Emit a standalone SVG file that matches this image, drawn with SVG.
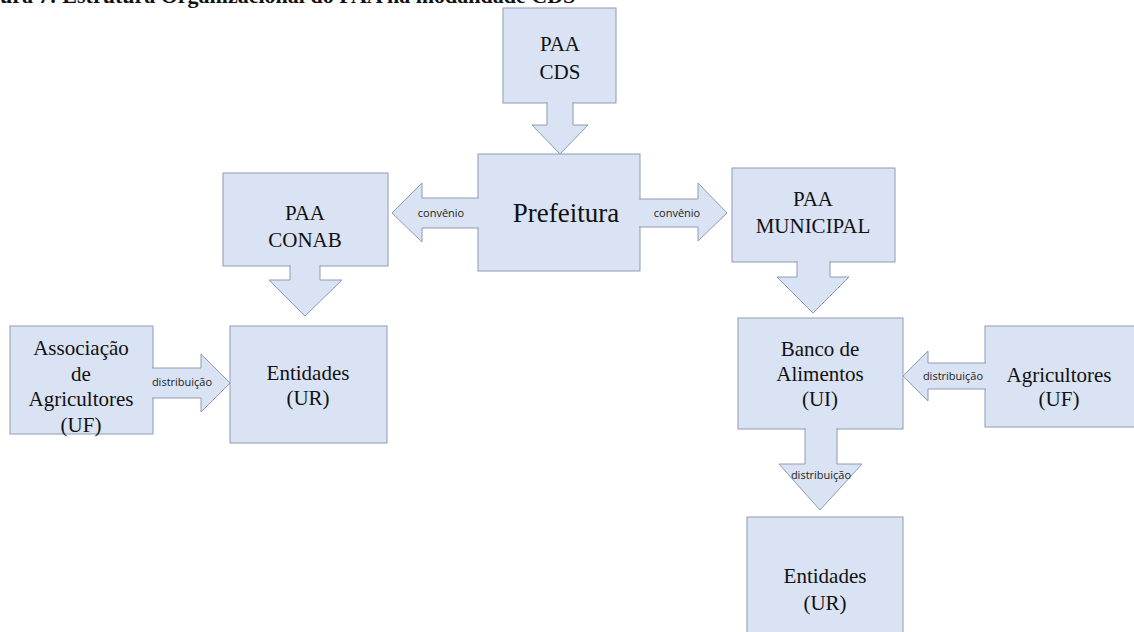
<svg xmlns="http://www.w3.org/2000/svg" width="1134" height="632" viewBox="0 0 1134 632">
<style>
.box{fill:#dae3f3;stroke:#8e9bb2;stroke-width:1}
.arr{fill:#dae3f3;stroke:#8e9bb2;stroke-width:1;stroke-linejoin:miter}
.t{font-family:"Liberation Serif","Times New Roman",serif;font-size:21px;fill:#111;text-anchor:middle}
.big{font-size:27px}
.lbl{font-family:"Open Sans","Liberation Sans",sans-serif;font-size:11px;fill:#222;text-anchor:middle}
.title{font-family:"Liberation Serif","Times New Roman",serif;font-size:22px;font-weight:bold;fill:#111}
</style>
<rect width="1134" height="632" fill="#fff"/>
<text class="title" x="0" y="3">ura 7: Estrutura Organizacional do PAA na modalidade CDS</text>

<g id="n-cds"><rect class="box" x="503" y="8" width="113" height="95"/>
<text class="t" x="560" y="51" font-size="23">PAA</text><text class="t" x="560" y="79" font-size="23">CDS</text></g>

<g id="n-prefeitura"><rect class="box" x="478" y="154" width="162" height="117"/>
<text class="t big" x="566" y="222">Prefeitura</text></g>

<g id="n-conab"><rect class="box" x="223" y="173" width="165" height="93"/>
<text class="t" x="305" y="220">PAA</text><text class="t" x="305" y="247">CONAB</text></g>

<g id="n-municipal"><rect class="box" x="732" y="168" width="163" height="94"/>
<text class="t" x="813" y="206">PAA</text><text class="t" x="813" y="233">MUNICIPAL</text></g>

<g id="n-assoc"><rect class="box" x="10" y="326" width="143" height="108"/>
<text class="t" x="81" y="355">Associação</text><text class="t" x="81" y="381">de</text><text class="t" x="81" y="406">Agricultores</text><text class="t" x="81" y="432">(UF)</text></g>

<g id="n-entidades1"><rect class="box" x="230" y="326" width="157" height="117"/>
<text class="t" x="308" y="380">Entidades</text><text class="t" x="308" y="405">(UR)</text></g>

<g id="n-banco"><rect class="box" x="738" y="318" width="165" height="111"/>
<text class="t" x="820" y="356">Banco de</text><text class="t" x="820" y="381">Alimentos</text><text class="t" x="820" y="406">(UI)</text></g>

<g id="n-agric"><rect class="box" x="985" y="326" width="155" height="101"/>
<text class="t" x="1059" y="382">Agricultores</text><text class="t" x="1059" y="406">(UF)</text></g>

<g id="n-entidades2"><rect class="box" x="747" y="517" width="156" height="125"/>
<text class="t" x="825" y="583">Entidades</text><text class="t" x="825" y="610">(UR)</text></g>

<g id="connectors">
<path class="arr" d="M547,102 L547,125 L532,125 L560,154 L588,125 L573,125 L573,102"/>
<path class="arr" d="M479,198 L422,198 L422,183 L392,213 L422,242 L422,228 L479,228"/>
<text class="lbl" x="441" y="217">convênio</text>
<path class="arr" d="M639,199 L698,199 L698,183 L727,213 L698,241 L698,227 L639,227"/>
<text class="lbl" x="677" y="217">convênio</text>
<path class="arr" d="M290,265 L290,280 L269,280 L305,316 L342,280 L320,280 L320,265"/>
<path class="arr" d="M152,368 L201,368 L201,354 L230,383 L201,412 L201,398 L152,398"/>
<text class="lbl" x="182" y="386">distribuição</text>
<path class="arr" d="M797,261 L797,277 L777,277 L813,313 L849,277 L830,277 L830,261"/>
<path class="arr" d="M986,363 L928,363 L928,351 L903,376 L928,401 L928,389 L986,389"/>
<text class="lbl" x="953" y="380">distribuição</text>
<path class="arr" d="M805,428 L805,464 L779,464 L820,510 L862,464 L837,464 L837,428"/>
<text class="lbl" x="821" y="479">distribuição</text>
</g>
</svg>
